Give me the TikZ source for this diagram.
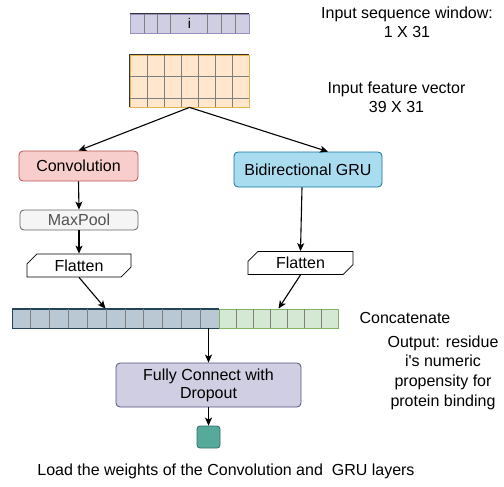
\documentclass[tikz,border=0pt]{standalone}
\usepackage{fontspec}
\setmainfont{Liberation Sans}
\newfontfamily\rawfont{Liberation Sans}
\usepackage{tikz}
\usetikzlibrary{arrows.meta, calc, shapes.misc}

\definecolor{seqfill}{HTML}{D0CEE2}
\definecolor{seqline}{HTML}{9A8FC0}
\definecolor{featfill}{HTML}{FFE6CC}
\definecolor{featline}{HTML}{E5B44A}
\definecolor{convfill}{HTML}{F8CECC}
\definecolor{convline}{HTML}{B85450}
\definecolor{poolfill}{HTML}{F5F5F5}
\definecolor{poolline}{HTML}{666666}
\definecolor{grufill}{HTML}{AADCF0}
\definecolor{gruline}{HTML}{10739E}
\definecolor{catLfill}{HTML}{BAC8D3}
\definecolor{catLline}{HTML}{23445D}
\definecolor{catRfill}{HTML}{D5E8D4}
\definecolor{catRline}{HTML}{82B366}
\definecolor{fcfill}{HTML}{D0CEE2}
\definecolor{fcline}{HTML}{56517E}
\definecolor{outfill}{HTML}{55AA9A}
\definecolor{outline}{HTML}{2F6F66}
\definecolor{cellgray}{HTML}{7F7F7F}

\tikzset{>={Stealth[length=8pt, width=7pt, inset=2pt]},
    every node/.style={font=\fontsize{16}{18}\selectfont, inner sep=0pt},
    conn/.style={->, line width=1.1pt, black},
    cellline/.style={line width=0.8pt, cellgray},
    block/.style={rounded corners=4pt, line width=0.8pt, align=center},
    flatbox/.style={chamfered rectangle, chamfered rectangle corners={north west, south east},
        chamfered rectangle xsep=7pt, chamfered rectangle ysep=4pt, draw=black, line width=0.8pt,
        fill=white, minimum height=23pt},
    note/.style={align=center, font=\fontsize{16}{19}\selectfont}
}

\begin{document}
\begin{tikzpicture}[x=1pt, y=-1pt]
        \useasboundingbox (0,0) rectangle (504,487);
        % input window and feature grid
        \node[draw=seqline, fill=seqfill, line width=0.8pt, minimum width=119pt, minimum height=19pt,
            font=\fontsize{14}{16}\selectfont] (seq) at (189.5,23.5) {i};
        \foreach \x in {144,157,170,207,221,235}
            \draw[cellline] (\x,14) -- (\x,33);
        \draw[line width=1pt, black!80] (seq.north west) -- (seq.north east);
        \node[draw=featline, fill=featfill, line width=0.8pt, minimum width=119pt, minimum height=52pt] (feat) at (189.5,81) {};
        \foreach \x in {147,164,...,232}
            \draw[cellline] (\x,55) -- (\x,107);
        \foreach \y in {76,98}
            \draw[cellline] (130,\y) -- (249,\y);
        \draw[line width=1pt, black!80] (feat.south west) -- (feat.north west) -- (feat.north east);
        % blocks
        \node[block, draw=convline, fill=convfill, minimum width=119pt, minimum height=30pt] (conv) at (78.5,166) {Convolution};
        \node[block, draw=poolline, fill=poolfill, text=poolline!80!black, minimum width=118pt, minimum height=20pt] (pool) at (79,220) {MaxPool};
        \node[flatbox, minimum width=104pt] (flatL) at (79,265.5) {Flatten};
        \node[block, draw=gruline, fill=grufill, minimum width=148pt, minimum height=35pt] (gru) at (308,169.5) {Bidirectional GRU};
        \node[flatbox, minimum width=105pt] (flatR) at (300.5,263) {Flatten};
        % concatenated vector
        \node[draw=catLline, fill=catLfill, line width=0.8pt, minimum width=207pt, minimum height=19pt] (catL) at (115.5,318.5) {};
        \node[draw=catRline, fill=catRfill, line width=0.8pt, minimum width=119pt, minimum height=19pt] (catR) at (278.5,318.5) {};
        \foreach \i in {1,...,10}
            \draw[cellline] ({12+\i*18.818},309) -- ({12+\i*18.818},328);
        \foreach \i in {1,...,6}
            \draw[cellline] ({219+\i*17},309) -- ({219+\i*17},328);
        \draw[line width=1pt, catLline] (catL.north west) -- (catL.north east);
        \node[block, draw=fcline, fill=fcfill, minimum width=185pt, minimum height=44pt] (fc) at (208.5,385) {Fully Connect with\\Dropout};
        \node[rounded corners=3pt, draw=outline, fill=outfill, line width=0.8pt, minimum width=23pt, minimum height=22pt] (out) at (208.5,437) {};
        % connectors
        \draw[conn] (feat.south) -- (conv.north);
        \draw[conn] (feat.south) -- ([xshift=20pt]gru.north);
        \draw[conn] (conv.south) -- (pool.north);
        \draw[conn] (pool.south) -- (flatL.north);
        \draw[conn] ([xshift=-6pt]gru.south) -- (flatR.north);
        \draw[conn] (flatL.south) -- ([xshift=-10pt]catL.north);
        \draw[conn] (flatR.south) -- (catR.north);
        \draw[conn] (catL.south -| fc.north) -- (fc.north);
        \draw[conn] (fc.south) -- (out.north);
        % texts
        \node[note] (winlbl) at (407,22.5) {Input sequence window:\\1 X 31};
        \node[note] (featlbl) at (396.5,97.5) {Input feature vector\\39 X 31};
        \node (catlbl) at (405,318) {Concatenate};
        \node[align=center, font=\fontsize{16}{19.7}\selectfont] (outlbl) at (443,372.5) {Output: residue\\{\rawfont i's} numeric\\propensity for\\protein binding};
        \node (loadlbl) at (226,471) {Load the weights of the Convolution and~ GRU layers};
    \end{tikzpicture}
\end{document}
